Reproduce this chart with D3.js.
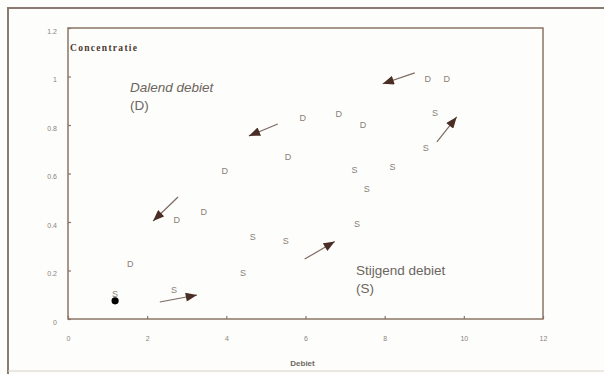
<!DOCTYPE html>
<html>
<head>
<meta charset="utf-8">
<script src="https://cdn.jsdelivr.net/npm/d3@7"></script>
<style>
  body { margin: 0; background: #fdfdfb; }
  svg { display: block; }
</style>
</head>
<body>
<svg width="604" height="374"></svg>
<script>
// Dalend debiet (D)
const dX = [1.57, 2.75, 3.43, 3.96, 5.56, 5.93, 6.84, 7.45, 9.09, 9.57];
const dY = [0.227, 0.41, 0.44, 0.61, 0.67, 0.83, 0.845, 0.80, 0.99, 0.99];
// Stijgend debiet (S)
const sX = [1.19, 2.68, 4.42, 4.67, 5.5, 7.3, 7.24, 7.55, 8.2, 9.04, 9.27];
const sY = [0.103, 0.12, 0.19, 0.34, 0.32, 0.39, 0.615, 0.536, 0.627, 0.705, 0.85];
// black dot
const dotX = [1.19];
const dotY = [0.075];
// arrows (from -> to)
const arrowFrom = [[8.76, 1.015], [5.3, 0.804], [2.78, 0.503], [2.32, 0.07], [5.98, 0.247], [9.32, 0.73]];
const arrowTo = [[7.95, 0.97], [4.57, 0.755], [2.15, 0.404], [3.26, 0.099], [6.74, 0.32], [9.82, 0.833]];
const xTicks = [0, 2, 4, 6, 8, 10, 12];
const yTicks = [0, 0.2, 0.4, 0.6, 0.8, 1, 1.2];

const margin = {top: 28, right: 61, bottom: 55, left: 68};
const width = 604 - margin.left - margin.right;
const height = 374 - margin.top - margin.bottom;

const svg = d3.select("svg");

// outer frame
svg.append("path")
    .attr("d", "M8,374 L8,8 L604,8")
    .attr("fill", "none")
    .attr("stroke", "#8a7b72")
    .attr("stroke-width", 2);
svg.append("line")
    .attr("x1", 8).attr("x2", 604).attr("y1", 371).attr("y2", 371)
    .attr("stroke", "#d8d2cc").attr("stroke-width", 1);

const g = svg.append("g")
    .attr("transform", "translate(" + margin.left + "," + margin.top + ")");

const x = d3.scaleLinear().domain([0, 12]).range([0, width]);
const y = d3.scaleLinear().domain([0, 1.2]).range([height, 0]);

g.append("rect")
    .attr("width", width)
    .attr("height", height)
    .attr("fill", "none")
    .attr("stroke", "#8b7466")
    .attr("stroke-width", 1.5);

const xAxis = g.append("g")
    .attr("transform", "translate(0," + height + ")")
    .call(d3.axisBottom(x).tickValues(xTicks).tickSizeInner(-3).tickSizeOuter(0).tickFormat(d3.format("")));
const yAxis = g.append("g")
    .call(d3.axisLeft(y).tickValues(yTicks).tickSizeInner(-3).tickSizeOuter(0).tickFormat(d3.format("")));

[xAxis, yAxis].forEach(a => {
    a.select(".domain").remove();
    a.selectAll("line").attr("stroke", "#8b7466").attr("stroke-width", 1.2);
    a.selectAll("text")
        .attr("fill", "#8a847e")
        .style("font-family", "'Liberation Sans', Arial, sans-serif")
        .style("font-size", "7px");
});
xAxis.selectAll("text").attr("y", 17);
yAxis.selectAll("text").attr("x", -11).attr("dy", "0.75em");

// axis titles
g.append("text")
    .attr("x", 2).attr("y", 23)
    .attr("textLength", 67)
    .attr("fill", "#4a3a32")
    .style("font-family", "'Liberation Serif', 'DejaVu Serif', serif")
    .style("font-weight", "bold")
    .style("font-size", "9.5px")
    .text("Concentratie");
g.append("text")
    .attr("x", width / 2 - 3).attr("y", 338)
    .attr("text-anchor", "middle")
    .attr("fill", "#6f6862")
    .style("font-family", "'Liberation Sans', Arial, sans-serif")
    .style("font-weight", "bold")
    .style("font-size", "8px")
    .text("Debiet");

// labels
const labelFont = "'Liberation Sans', Arial, sans-serif";
const dl = g.append("text").attr("fill", "#6c6560")
    .style("font-family", labelFont).style("font-size", "13.5px");
dl.append("tspan").attr("x", 62).attr("y", 64).style("font-style", "italic").text("Dalend debiet");
dl.append("tspan").attr("x", 62).attr("y", 82).text("(D)");
const sl = g.append("text").attr("fill", "#6c6560")
    .style("font-family", labelFont).style("font-size", "13.5px");
sl.append("tspan").attr("x", 288).attr("y", 247).text("Stijgend debiet");
sl.append("tspan").attr("x", 288).attr("y", 265).text("(S)");

// points
const pointStyle = sel => sel
    .attr("text-anchor", "middle")
    .attr("dominant-baseline", "central")
    .attr("fill", "#888078")
    .style("font-family", labelFont)
    .style("font-size", "9px");

g.selectAll(".d").data(dX.map((v, i) => [v, dY[i]])).enter()
    .append("text").attr("class", "d")
    .attr("x", d => x(d[0])).attr("y", d => y(d[1]))
    .call(pointStyle).text("D");
g.selectAll(".s").data(sX.map((v, i) => [v, sY[i]])).enter()
    .append("text").attr("class", "s")
    .attr("x", d => x(d[0])).attr("y", d => y(d[1]))
    .call(pointStyle).text("S");

g.selectAll(".dot").data(dotX.map((v, i) => [v, dotY[i]])).enter()
    .append("circle").attr("class", "dot")
    .attr("cx", d => x(d[0])).attr("cy", d => y(d[1]))
    .attr("r", 3.6).attr("fill", "#000");

// arrows
svg.append("defs").append("marker")
    .attr("id", "head")
    .attr("markerUnits", "userSpaceOnUse")
    .attr("viewBox", "0 0 10 8")
    .attr("refX", 10).attr("refY", 4)
    .attr("markerWidth", 12).attr("markerHeight", 9)
    .attr("orient", "auto")
    .append("path")
    .attr("d", "M0,0 L10,4 L0,8 Z")
    .attr("fill", "#4a2e26");

g.selectAll(".arrow").data(arrowFrom.map((f, i) => [f, arrowTo[i]])).enter()
    .append("line").attr("class", "arrow")
    .attr("x1", d => x(d[0][0])).attr("y1", d => y(d[0][1]))
    .attr("x2", d => x(d[1][0])).attr("y2", d => y(d[1][1]))
    .attr("stroke", "#7d6a62")
    .attr("stroke-width", 1.2)
    .attr("marker-end", "url(#head)");
</script>
</body>
</html>
